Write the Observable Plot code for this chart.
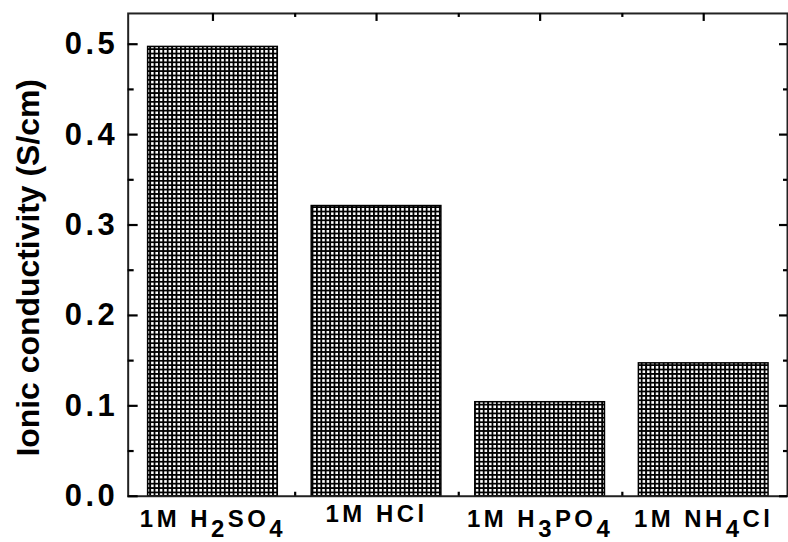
<!DOCTYPE html>
<html><head><meta charset="utf-8">
<script src="https://cdn.jsdelivr.net/npm/d3@7"></script>
<script src="https://cdn.jsdelivr.net/npm/@observablehq/plot@0.6"></script>
<style>
html,body{margin:0;padding:0;overflow:hidden;background:#fff;}
#chart svg{display:block;font-family:"Liberation Sans",Arial,sans-serif;}
g[aria-label="y-axis tick label"] text{letter-spacing:3.5px;}
g[aria-label="x-axis tick label"] text{letter-spacing:3.5px;}
</style></head><body><div id="chart"></div>
<script>
const categories = ["1M H2SO4", "1M HCl", "1M H3PO4", "1M NH4Cl"];
const conductivity = [0.497, 0.321, 0.104, 0.147];
const yMajorTicks = [0, 0.1, 0.2, 0.3, 0.4, 0.5];
const yMinorTicks = [0.05, 0.15, 0.25, 0.35, 0.45];
const yLabel = "Ionic conductivity (S/cm)";

const data = categories.map((c, i) => ({category: c, value: conductivity[i]}));
const W = 790, H = 542, mL = 128, mR = 1, mT = 13, mB = 45;
const FW = W - mL - mR, FH = H - mT - mB;
const padIn = 0.21, padOut = 0.11;
const step = FW / (categories.length - padIn + 2 * padOut);
const boundaries = categories.slice(0, -1);
const tk = {stroke: "black", strokeWidth: 2.2};

const plot = Plot.plot({
  width: W, height: H,
  marginLeft: mL, marginRight: mR, marginTop: mT, marginBottom: mB,
  x: {domain: categories, paddingInner: padIn, paddingOuter: padOut, align: 0.5},
  y: {domain: [0, 0.534]},
  marks: [
    Plot.barY(data, {x: "category", y: "value", fill: "url(#barhatch)", stroke: "#000", strokeWidth: 1.5}),
    Plot.axisY({ticks: yMajorTicks, tickSize: 0, tickPadding: 10, tickFormat: d => d.toFixed(1), fontSize: 31, fontWeight: "bold", fill: "#000", label: null}),
    Plot.axisX({anchor: "bottom", tickSize: 0, tickPadding: 26, fontSize: 24, fontWeight: "bold", fill: "#000", label: null}),
    Plot.frame({stroke: "#222", strokeWidth: 2}),
    Plot.text([yLabel], {frameAnchor: "left", text: d => d, rotate: -90, textAnchor: "middle", dx: -100, dy: 13, fontSize: 32, fontWeight: "bold", fill: "#000"}),
    // inward ticks on all four sides, drawn last
    Plot.tickY(yMajorTicks, {...tk, y: d => d, insetRight: FW - 10}),
    Plot.tickY(yMinorTicks, {...tk, y: d => d, insetRight: FW - 6}),
    Plot.tickY(yMajorTicks, {...tk, y: d => d, insetLeft: FW - 8}),
    Plot.tickY(yMinorTicks, {...tk, y: d => d, insetLeft: FW - 4}),
    Plot.tickX(categories, {...tk, x: d => d, insetBottom: FH - 8}),
    Plot.tickX(boundaries, {...tk, x: d => d, dx: step / 2, insetBottom: FH - 4}),
    Plot.tickX(boundaries, {...tk, x: d => d, dx: step / 2, insetTop: FH - 4})
  ]
});

// crosshatch pattern for the bars
const ns = "http://www.w3.org/2000/svg";
const defs = document.createElementNS(ns, "defs");
const pat = document.createElementNS(ns, "pattern");
const P = 4.4;
pat.setAttribute("id", "barhatch");
pat.setAttribute("width", P);
pat.setAttribute("height", P);
pat.setAttribute("patternUnits", "userSpaceOnUse");
const bg = document.createElementNS(ns, "rect");
bg.setAttribute("width", P); bg.setAttribute("height", P); bg.setAttribute("fill", "#fff");
const ln = document.createElementNS(ns, "path");
ln.setAttribute("d", `M0 0.9H${P}M0.9 0V${P}`);
ln.setAttribute("stroke", "#000");
ln.setAttribute("stroke-width", "1.9");
pat.appendChild(bg); pat.appendChild(ln);
defs.appendChild(pat);
plot.appendChild(defs);

// chemical subscripts in the x tick labels
plot.querySelectorAll('g[aria-label="x-axis tick label"] text').forEach(t => {
  const label = t.textContent;
  if (!label) return;
  const parts = label.split(/(?<=[A-Za-z])(\d+)/);
  const hasSub = parts.length > 1;
  t.removeAttribute("dy");
  t.setAttribute("y", hasSub ? 5 : 0);
  t.textContent = "";
  let shift = 0;
  parts.forEach((p, i) => {
    if (!p) return;
    const ts = document.createElementNS(ns, "tspan");
    const target = i % 2 === 1 ? 10 : 0;
    ts.setAttribute("dy", target - shift);
    shift = target;
    ts.textContent = p;
    t.appendChild(ts);
  });
});

document.getElementById("chart").appendChild(plot);
</script></body></html>
